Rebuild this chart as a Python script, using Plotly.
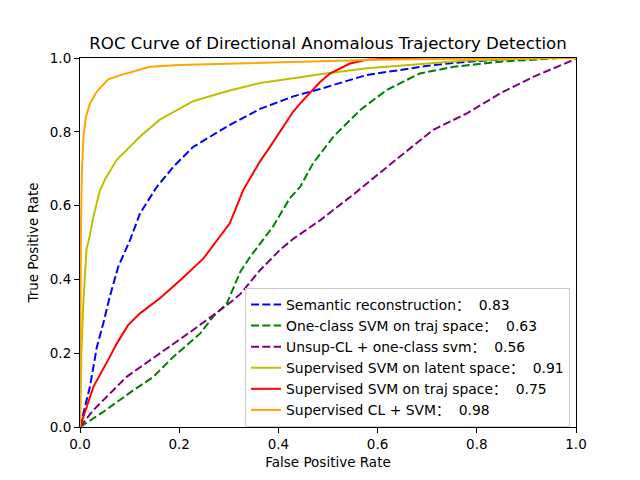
import plotly.graph_objects as go

# ---- data ----
names = [
    "Semantic reconstruction：  0.83",
    "One-class SVM on traj space：  0.63",
    "Unsup-CL + one-class svm：  0.56",
    "Supervised SVM on latent space：  0.91",
    "Supervised SVM on traj space：  0.75",
    "Supervised CL + SVM：  0.98",
]

sem_fpr = [0, 0.02, 0.034, 0.047, 0.06, 0.077, 0.101, 0.121, 0.155, 0.188, 0.228, 0.296, 0.363, 0.43, 0.484, 0.578, 0.712, 0.78, 0.9, 1.0]
sem_tpr = [0, 0.109, 0.217, 0.281, 0.353, 0.434, 0.507, 0.579, 0.651, 0.705, 0.759, 0.814, 0.862, 0.896, 0.916, 0.954, 0.981, 0.99, 1.0, 1.0]

ocs_fpr = [0, 0.047, 0.108, 0.148, 0.188, 0.242, 0.269, 0.296, 0.323, 0.343, 0.376, 0.39, 0.423, 0.444, 0.47, 0.49, 0.511, 0.565, 0.618, 0.685, 0.753, 0.847, 0.914, 0.97, 1.0]
ocs_tpr = [0, 0.041, 0.1, 0.136, 0.19, 0.253, 0.3, 0.335, 0.42, 0.461, 0.52, 0.545, 0.62, 0.651, 0.715, 0.751, 0.787, 0.859, 0.913, 0.958, 0.976, 0.99, 0.995, 1.0, 1.0]

ucl_fpr = [0, 0.027, 0.094, 0.161, 0.228, 0.296, 0.323, 0.363, 0.403, 0.43, 0.484, 0.551, 0.605, 0.645, 0.712, 0.78, 0.847, 0.914, 0.995, 1.0]
ucl_tpr = [0, 0.046, 0.136, 0.199, 0.263, 0.33, 0.36, 0.425, 0.48, 0.51, 0.56, 0.63, 0.69, 0.733, 0.805, 0.85, 0.904, 0.949, 0.995, 1.0]

slat_fpr = [0, 0.003, 0.007, 0.013, 0.02, 0.027, 0.04, 0.05, 0.074, 0.121, 0.161, 0.228, 0.296, 0.363, 0.444, 0.484, 0.578, 0.78, 0.95, 1.0]
slat_tpr = [0, 0.21, 0.344, 0.48, 0.52, 0.57, 0.64, 0.67, 0.724, 0.787, 0.833, 0.883, 0.91, 0.932, 0.948, 0.956, 0.972, 0.993, 1.0, 1.0]

stra_fpr = [0, 0.027, 0.06, 0.074, 0.097, 0.121, 0.161, 0.202, 0.249, 0.276, 0.302, 0.329, 0.363, 0.383, 0.43, 0.444, 0.484, 0.504, 0.544, 0.578, 0.65, 1.0]
stra_tpr = [0, 0.109, 0.19, 0.226, 0.276, 0.308, 0.349, 0.398, 0.457, 0.507, 0.552, 0.642, 0.72, 0.759, 0.855, 0.877, 0.935, 0.958, 0.985, 0.995, 1.0, 1.0]

scl_fpr = [0, 0.001, 0.002, 0.004, 0.007, 0.012, 0.02, 0.034, 0.057, 0.08, 0.1, 0.141, 0.2, 0.3, 0.4, 0.5, 0.6, 0.7, 0.8, 1.0]
scl_tpr = [0, 0.3, 0.55, 0.7, 0.787, 0.84, 0.877, 0.909, 0.942, 0.953, 0.96, 0.976, 0.981, 0.985, 0.989, 0.992, 0.995, 0.997, 0.998, 1.0]

xs = [sem_fpr, ocs_fpr, ucl_fpr, slat_fpr, stra_fpr, scl_fpr]
ys = [sem_tpr, ocs_tpr, ucl_tpr, slat_tpr, stra_tpr, scl_tpr]
colors = ["#0000ff", "#008000", "#800080", "#bfbf00", "#ff0000", "#ffa500"]
dashes = ["8px,3.3px", "8px,3.3px", "8px,3.3px", "solid", "solid", "solid"]

tick_vals = [0, 0.2, 0.4, 0.6, 0.8, 1.0]
tick_text = ["0.0", "0.2", "0.4", "0.6", "0.8", "1.0"]

FONT = "DejaVu Sans, Noto Sans CJK SC, sans-serif"

fig = go.Figure()
for n, x, y, c, d in zip(names, xs, ys, colors, dashes):
    fig.add_trace(go.Scatter(x=x, y=y, mode="lines", name=n,
                             line=dict(color=c, width=2, dash=d)))

axis_common = dict(range=[0, 1], tickvals=tick_vals, ticktext=tick_text,
                   showgrid=False, zeroline=False, showline=True, mirror=True,
                   linecolor="black", linewidth=1.1, ticks="outside",
                   ticklen=5, tickwidth=1.1, tickcolor="black",
                   tickfont=dict(family=FONT, size=13.5, color="black"))

W, H = 632, 472  # page body has an 8px margin
fig.update_layout(
    width=W, height=H,
    margin=dict(l=72, r=64, t=50, b=53),
    paper_bgcolor="white", plot_bgcolor="white",
    title=dict(text="ROC Curve of Directional Anomalous Trajectory Detection",
               x=320 / W, xanchor="center",
               y=1 - 35 / H, yanchor="middle",
               font=dict(family=FONT, size=16.6, color="black")),
    xaxis=dict(title=dict(text="False Positive Rate", standoff=6,
                          font=dict(family=FONT, size=13.5, color="black")),
               **axis_common),
    yaxis=dict(title=dict(text="True Positive Rate", standoff=8,
                          font=dict(family=FONT, size=13.5, color="black")),
               **axis_common),
    legend=dict(x=0.988, xanchor="right", y=0.0, yanchor="bottom",
                bgcolor="rgba(255,255,255,0.8)", bordercolor="#cccccc",
                borderwidth=1, font=dict(family=FONT, size=13.9, color="black"),
                tracegroupgap=0, itemwidth=30),
    showlegend=True,
)

fig.write_html("out.html")
